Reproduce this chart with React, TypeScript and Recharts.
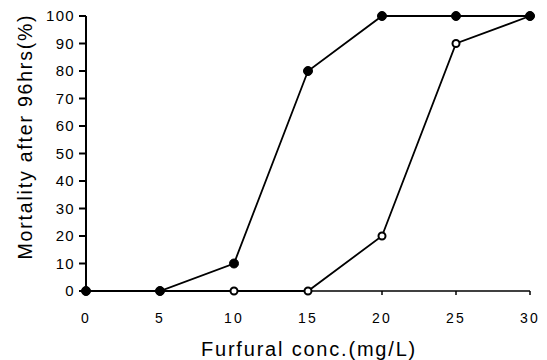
import { LineChart, Line, XAxis, YAxis } from "recharts";

const concentrations = [0, 5, 10, 15, 20, 25, 30];
const mortalityFilled = [0, 0, 10, 80, 100, 100, 100];
const mortalityOpen = [0, 0, 0, 0, 20, 90, 100];
const xTicks = [0, 5, 10, 15, 20, 25, 30];
const yTicks = [0, 10, 20, 30, 40, 50, 60, 70, 80, 90, 100];

const data = concentrations.map((c, i) => ({
  conc: c,
  filled: mortalityFilled[i],
  open: mortalityOpen[i],
}));

const font = "'Liberation Sans', Arial, sans-serif";

// axis titles placed from the axis viewBox
const XTitle = (props: any) => {
  const vb = props.viewBox;
  return (
    <text
      x={vb.x + vb.width / 2 + 1}
      y={vb.y + 65}
      textAnchor="middle"
      fill="#000"
      fontSize={20}
      fontFamily={font}
      letterSpacing={1.8}
    >
      Furfural conc.(mg/L)
    </text>
  );
};

const YTitle = (props: any) => {
  const vb = props.viewBox;
  const x = 32;
  const y = vb.y + vb.height / 2 - 17;
  return (
    <text
      x={x}
      y={y}
      transform={`rotate(-90 ${x} ${y})`}
      textAnchor="middle"
      fill="#000"
      fontSize={19.5}
      fontFamily={font}
      letterSpacing={1.8}
    >
      Mortality after 96hrs(%)
    </text>
  );
};

export default function App() {
  return (
    <div style={{ position: "absolute", left: 0, top: 0, background: "#fff" }}>
      <LineChart width={547} height={360} data={data} margin={{ top: 16, right: 17, left: 46, bottom: 39 }}>
        <XAxis
          dataKey="conc"
          type="number"
          domain={[0, 30]}
          ticks={xTicks}
          height={30}
          stroke="#000"
          strokeWidth={1.5}
          tickSize={4}
          tickMargin={18}
          tick={{ fill: "#000", fontSize: 14, fontFamily: font, letterSpacing: 2.2 }}
          label={<XTitle />}
        />
        <YAxis
          type="number"
          domain={[0, 100]}
          ticks={yTicks}
          width={40}
          stroke="#000"
          strokeWidth={2}
          tickSize={7}
          tickMargin={4}
          interval={0}
          tick={{ fill: "#000", fontSize: 15, fontFamily: font, letterSpacing: 1.3 }}
          label={<YTitle />}
        />
        <Line
          dataKey="open"
          stroke="#000"
          strokeWidth={1.8}
          dot={{ r: 3.5, fill: "#fff", stroke: "#000", strokeWidth: 2 }}
          isAnimationActive={false}
        />
        <Line
          dataKey="filled"
          stroke="#000"
          strokeWidth={1.8}
          dot={{ r: 4.5, fill: "#000", stroke: "#000", strokeWidth: 1 }}
          isAnimationActive={false}
        />
      </LineChart>
    </div>
  );
}
